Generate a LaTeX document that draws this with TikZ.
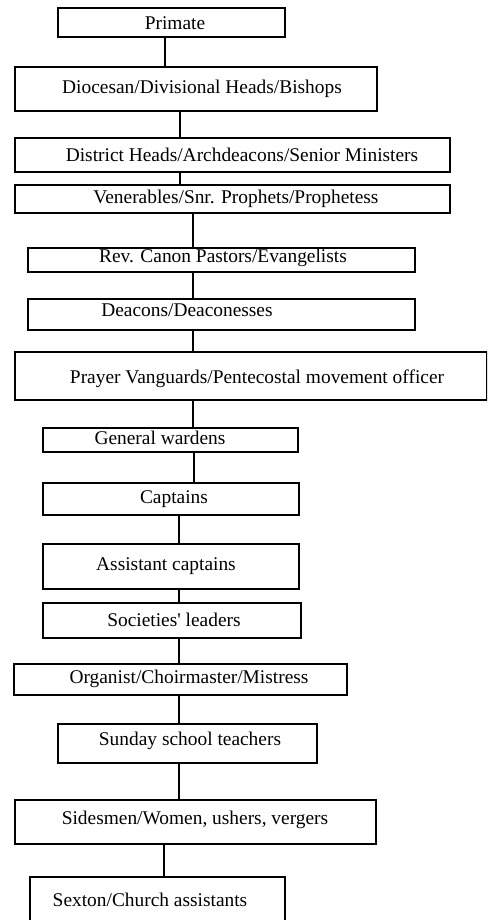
\documentclass[tikz,border=0pt]{standalone}
\usepackage{fontspec}
\setmainfont{Liberation Serif}
\begin{document}
\begin{tikzpicture}[x=1pt,y=-1pt,
    box/.style={draw=black, line width=1.8pt, rectangle, inner sep=0pt, outer sep=0pt},
    lbl/.style={inner sep=0pt, font=\fontsize{19.4}{21}\selectfont},
    link/.style={line width=1.8pt}]
    \useasboundingbox (0,0) rectangle (487,920);
    \clip (0,0) rectangle (487,920);
    % boxes
    \node[box, minimum width=227, minimum height=29] (primate) at (171.5,22.5) {};
    \node[box, minimum width=362, minimum height=44] (diocesan) at (196,89) {};
    \node[box, minimum width=435, minimum height=34] (district) at (232.5,155) {};
    \node[box, minimum width=435, minimum height=28] (venerables) at (232.5,199) {};
    \node[box, minimum width=387, minimum height=24] (canon) at (221.5,260) {};
    \node[box, minimum width=387, minimum height=31] (deacons) at (221.5,314.5) {};
    \node[box, minimum width=472, minimum height=48] (prayer) at (251,376) {};
    \node[box, minimum width=255, minimum height=24] (wardens) at (170.5,440) {};
    \node[box, minimum width=256, minimum height=32] (captains) at (171,499) {};
    \node[box, minimum width=256, minimum height=45] (asstcapt) at (171,566.5) {};
    \node[box, minimum width=258, minimum height=35] (societies) at (172,620.5) {};
    \node[box, minimum width=333, minimum height=31] (organist) at (180.5,679.5) {};
    \node[box, minimum width=259, minimum height=39] (sunday) at (187.5,743.5) {};
    \node[box, minimum width=361, minimum height=44] (sidesmen) at (195.5,822) {};
    \node[box, minimum width=255, minimum height=63] (sexton) at (157.5,908.5) {};
    % labels
    \node[lbl] (primate-t) at (175,23) {Primate};
    \node[lbl] (diocesan-t) at (202,89) {Diocesan/Divisional Heads/Bishops};
    \node[lbl] (district-t) at (242,155) {District Heads/Archdeacons/Senior Ministers};
    \node[lbl] (venerables-t) at (236,199) {Venerables/Snr. Prophets/Prophetess};
    \node[lbl] (canon-t) at (223,258) {Rev. Canon Pastors/Evangelists};
    \node[lbl] (deacons-t) at (187,310) {Deacons/Deaconesses};
    \node[lbl] (prayer-t) at (257,379) {Prayer Vanguards/Pentecostal movement officer};
    \node[lbl] (wardens-t) at (160,438) {General wardens};
    \node[lbl] (captains-t) at (174,499) {Captains};
    \node[lbl] (asstcapt-t) at (166,566) {Assistant captains};
    \node[lbl] (societies-t) at (174,620) {Societies\textquotesingle{} leaders};
    \node[lbl] (organist-t) at (189,679) {Organist/Choirmaster/Mistress};
    \node[lbl] (sunday-t) at (190,741) {Sunday school teachers};
    \node[lbl] (sidesmen-t) at (195,820) {Sidesmen/Women, ushers, vergers};
    \node[lbl] (sexton-t) at (150,900) {Sexton/Church assistants};
    % links
    \draw[link] (165,0 |- primate.south) -- (165,0 |- diocesan.north);
    \draw[link] (180,0 |- diocesan.south) -- (180,0 |- district.north);
    \draw[link] (180,0 |- district.south) -- (180,0 |- venerables.north);
    \draw[link] (193,0 |- venerables.south) -- (193,0 |- canon.north);
    \draw[link] (193,0 |- canon.south) -- (193,0 |- deacons.north);
    \draw[link] (193,0 |- deacons.south) -- (193,0 |- prayer.north);
    \draw[link] (193,0 |- prayer.south) -- (193,0 |- wardens.north);
    \draw[link] (194,0 |- wardens.south) -- (194,0 |- captains.north);
    \draw[link] (179,0 |- captains.south) -- (179,0 |- asstcapt.north);
    \draw[link] (179,0 |- asstcapt.south) -- (179,0 |- societies.north);
    \draw[link] (179,0 |- societies.south) -- (179,0 |- organist.north);
    \draw[link] (179,0 |- organist.south) -- (179,0 |- sunday.north);
    \draw[link] (179,0 |- sunday.south) -- (179,0 |- sidesmen.north);
    \draw[link] (164,0 |- sidesmen.south) -- (164,0 |- sexton.north);
\end{tikzpicture}
\end{document}
